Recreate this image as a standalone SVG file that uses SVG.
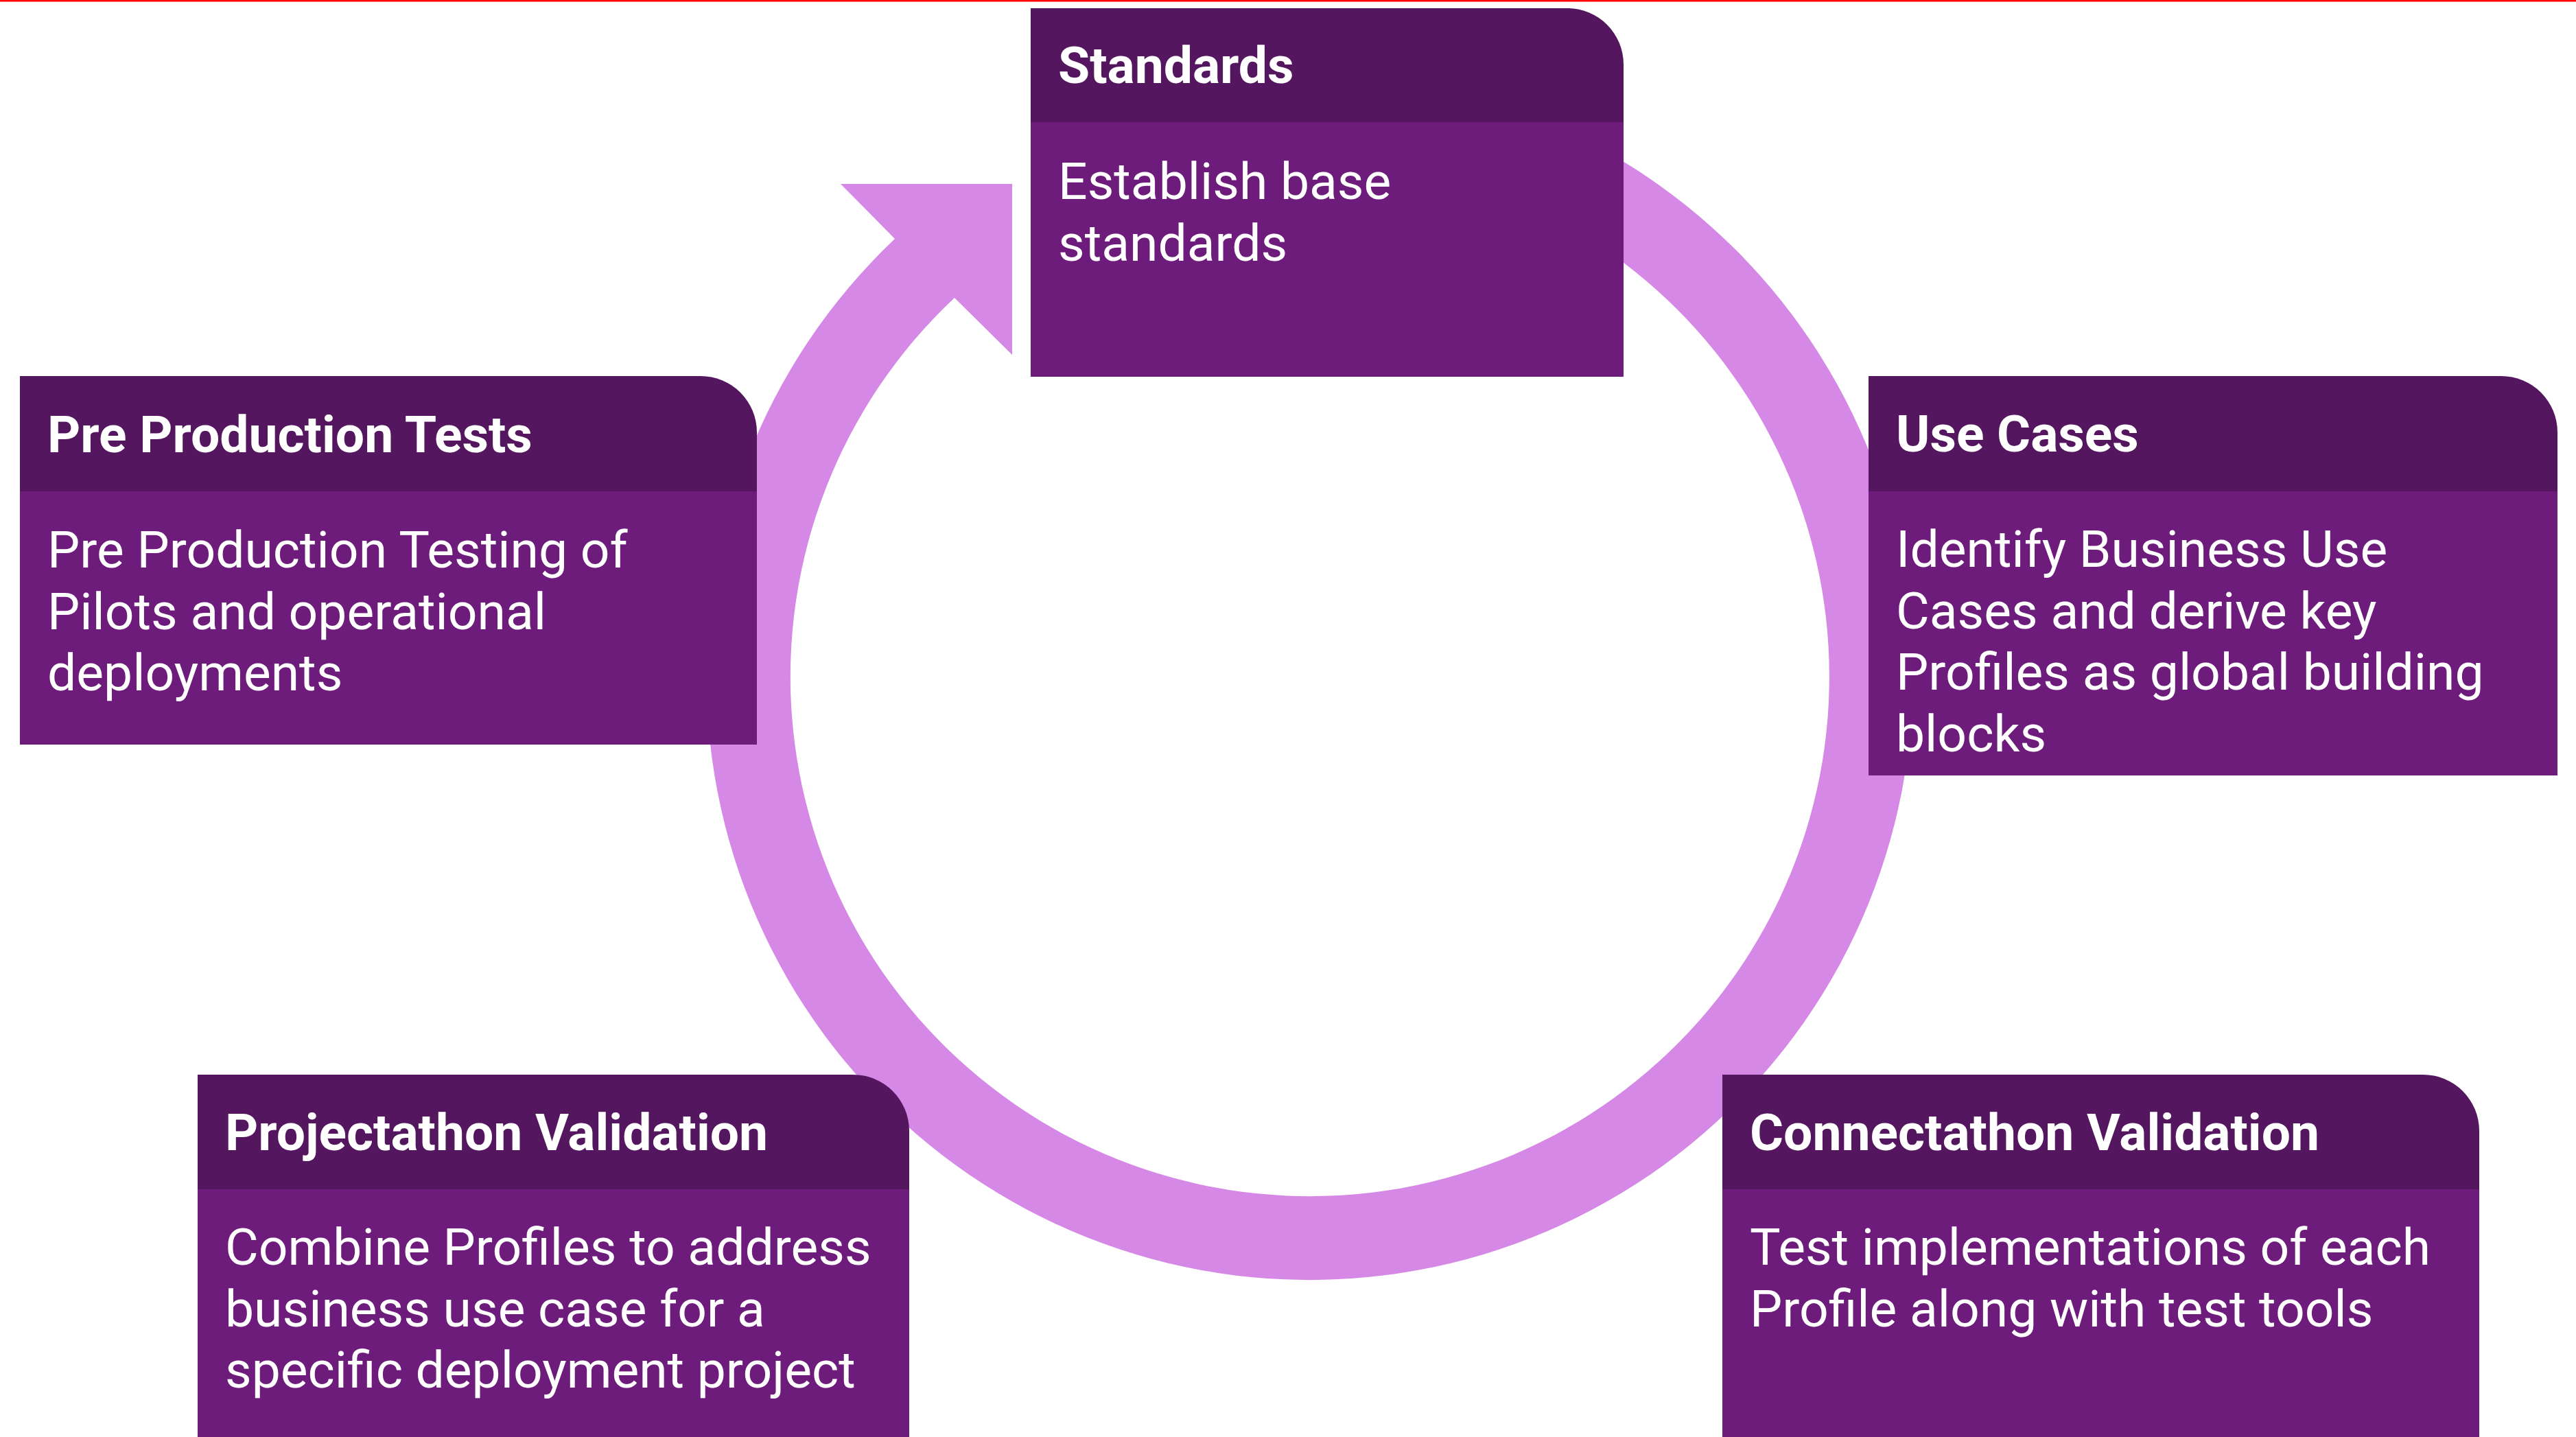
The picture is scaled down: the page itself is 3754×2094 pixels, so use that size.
<svg xmlns="http://www.w3.org/2000/svg" width="3754" height="2094" viewBox="0 0 3754 2094">
<style>
.hd{fill:#53165F}
.bd{fill:#6E1C7B}
.ht{font-family:Roboto,"Liberation Sans",sans-serif;font-weight:bold;font-size:75px;fill:#FFFFFF}
.bt{font-family:Roboto,"Liberation Sans",sans-serif;font-size:75px;fill:#FFFFFF}
</style>
<rect x="0" y="0" width="3754" height="2094" fill="#FFFFFF"/>
<rect x="0" y="0" width="3754" height="2.5" fill="#FF0000"/>
<g id="connectors">
<path d="M 2060.6 120.4 A 879 879 0 1 1 1304 348 L 1225 268 L 1475 268 L 1475 517 L 1391 434 A 757 757 0 1 0 2039.5 240.5 Z" fill="#D588E5"/>
</g>
<g id="standards">
<path class="hd" d="M 1502 12 H 2284 A 82 82 0 0 1 2366 94 V 179 H 1502 Z"/>
<rect class="bd" x="1502" y="178" width="864" height="371"/>
<text class="ht" x="1542" y="121">Standards</text>
<text class="bt" x="1542" y="290">Establish base</text>
<text class="bt" x="1542" y="379.5">standards</text>
</g>
<g id="use-cases">
<path class="hd" d="M 2723 548 H 3645 A 82 82 0 0 1 3727 630 V 717 H 2723 Z"/>
<rect class="bd" x="2723" y="716" width="1004" height="414"/>
<text class="ht" x="2763" y="658">Use Cases</text>
<text class="bt" x="2763" y="826">Identify Business Use</text>
<text class="bt" x="2763" y="915.5">Cases and derive key</text>
<text class="bt" x="2763" y="1005">Profiles as global building</text>
<text class="bt" x="2763" y="1094.5">blocks</text>
</g>
<g id="connectathon">
<path class="hd" d="M 2510 1566 H 3531 A 82 82 0 0 1 3613 1648 V 1734 H 2510 Z"/>
<rect class="bd" x="2510" y="1733" width="1103" height="361"/>
<text class="ht" x="2550" y="1676">Connectathon Validation</text>
<text class="bt" x="2550" y="1843">Test implementations of each</text>
<text class="bt" x="2550" y="1932.5">Profile along with test tools</text>
</g>
<g id="projectathon">
<path class="hd" d="M 288 1566 H 1243 A 82 82 0 0 1 1325 1648 V 1734 H 288 Z"/>
<rect class="bd" x="288" y="1733" width="1037" height="361"/>
<text class="ht" x="328" y="1676">Projectathon Validation</text>
<text class="bt" x="328" y="1843">Combine Profiles to address</text>
<text class="bt" x="328" y="1932.5">business use case for a</text>
<text class="bt" x="328" y="2022">specific deployment project</text>
</g>
<g id="pre-production">
<path class="hd" d="M 29 548 H 1021 A 82 82 0 0 1 1103 630 V 717 H 29 Z"/>
<rect class="bd" x="29" y="716" width="1074" height="369"/>
<text class="ht" x="69" y="659">Pre Production Tests</text>
<text class="bt" x="69" y="827">Pre Production Testing of</text>
<text class="bt" x="69" y="916.5">Pilots and operational</text>
<text class="bt" x="69" y="1006">deployments</text>
</g>
</svg>
